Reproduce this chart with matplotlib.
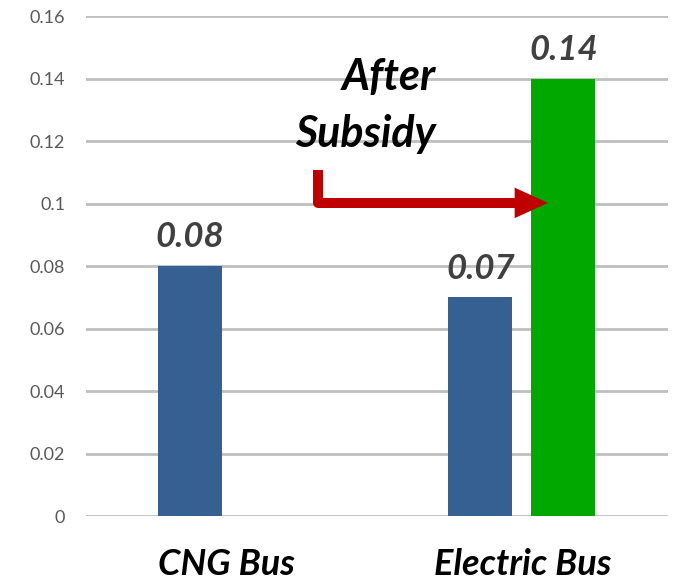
import matplotlib
matplotlib.use("Agg")
import matplotlib.pyplot as plt

# cost per km values
categories = ["CNG Bus", "Electric Bus"]
cng_value = 0.08
electric_value = 0.07
subsidy_value = 0.14
y_ticks = [0, 0.02, 0.04, 0.06, 0.08, 0.1, 0.12, 0.14, 0.16]

BLUE = "#376092"
GREEN = "#00A800"
RED = "#C00000"
GRID = "#BFBFBF"
FONT = "Lato"

fig = plt.figure(figsize=(6.76, 5.84), dpi=100)
ax = fig.add_axes([0.127, 0.1164, 0.861, 0.8562])

w = 0.1925
ax.bar(0, cng_value, w, color=BLUE, zorder=3)
ax.bar(1 - 0.126, electric_value, w, color=BLUE, zorder=3)
ax.bar(1 + 0.123, subsidy_value, w, color=GREEN, zorder=3)

# value labels above bars
for x, v in [(0, cng_value), (1 - 0.126, electric_value), (1 + 0.123, subsidy_value)]:
    ax.text(x, v + 0.006, f"{v:g}", ha="center", va="baseline", fontsize=25,
            fontweight="bold", fontstyle="italic", color="#404040", family=FONT,
            zorder=5)

ax.set_xlim(-0.3128, 1.4376)
ax.set_ylim(0, 0.16)
ax.set_yticks(y_ticks)
ax.set_yticklabels([f"{t:g}" for t in y_ticks], family=FONT, fontsize=13, color="#595959")
# category labels sit a little right of the CNG bar
ax.set_xticks([0.111, 1])
ax.set_xticklabels(categories, family=FONT, fontsize=26, fontweight="bold",
                   fontstyle="italic", color="black")
ax.tick_params(axis="y", length=0, pad=15)
ax.tick_params(axis="x", length=0, pad=23)
ax.grid(axis="y", color=GRID, linewidth=2, zorder=0)
ax.set_axisbelow(True)
for s in ax.spines.values():
    s.set_visible(False)

# right-aligned two-line note
for txt, yb in [("After", 0.1363), ("Subsidy", 0.1181)]:
    ax.text(0.740, yb, txt, ha="right", va="baseline", fontsize=31,
            fontweight="bold", fontstyle="italic", color="black", family=FONT,
            zorder=5)

# bent arrow pointing at the subsidised bar
x0, y0 = 0.385, 0.1107
y1 = 0.1002
head_base = 0.98
tip = 1.077
ax.plot([x0, x0, head_base], [y0, y1, y1], color=RED, linewidth=7.2,
        solid_joinstyle="round", solid_capstyle="butt", zorder=6)
ax.annotate("", xy=(tip, y1), xytext=(head_base - 0.01, y1),
            arrowprops=dict(width=0.1, headwidth=22, headlength=24,
                            facecolor=RED, edgecolor="none", shrink=0),
            zorder=6)

fig.savefig("out.png", dpi=100)
